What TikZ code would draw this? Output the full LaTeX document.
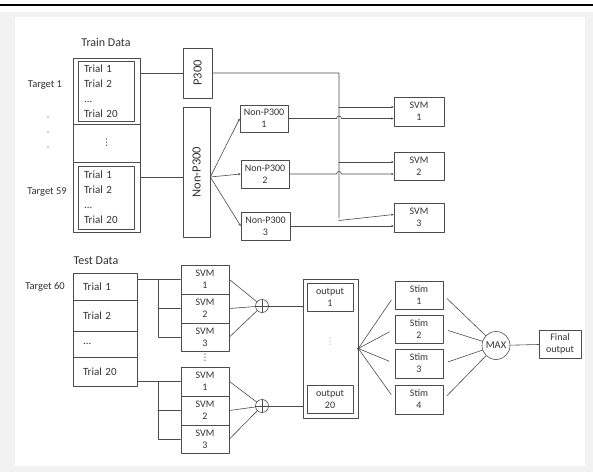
\documentclass[tikz,border=0pt]{standalone}
\usepackage{fontspec}
\usepackage{graphicx}
\setmainfont{Carlito}
\newfontfamily\symfont{DejaVu Sans}
\usetikzlibrary{arrows.meta,calc}
\newcommand{\boxfont}{\fontsize{10}{12}\selectfont}
\newcommand{\trialfont}{\fontsize{11}{15}\selectfont}
\newcommand{\rotfont}{\fontsize{12.5}{14}\selectfont}
\newcommand{\vdot}{{\symfont\fontsize{9}{10}\selectfont ⋮}}
\begin{document}
\begin{tikzpicture}[x=1pt,y=-1pt,line cap=round,line join=round,>={Stealth[length=2.5pt,width=2.2pt]}]
	\tikzset{box/.style={draw=black!70,line width=0.6pt,inner sep=0pt,align=center,font=\boxfont,text=black!80},
		inbox/.style={box,line width=0.9pt},
		lbl/.style={font=\fontsize{10.5}{12}\selectfont,inner sep=0pt,text=black!80},
		wire/.style={draw=black!70,line width=0.6pt}}
	\useasboundingbox (0,0) rectangle (593,472);
	\fill[black!5] (0,12) rectangle (593,472);
	\fill[white] (15,17) rectangle (585,466);
	\draw[line width=2pt] (0,5) -- (593,5);
	% train data
	\node[lbl,font=\fontsize{12}{14}\selectfont] (trainlbl) at (106,42) {Train Data};
	\node[box,minimum width=67pt,minimum height=66pt] (tgtop) at (106.5,91) {};
	\node[box,minimum width=67pt,minimum height=38pt] (tgmid) at (106.5,143) {\vdot};
	\node[box,minimum width=67pt,minimum height=70pt] (tgbot) at (106.5,197) {};
	\node[inbox,minimum width=56pt,minimum height=60pt,font=\trialfont,align=left,text width=44pt] (tgA) at (106,91) {Trial 1\\Trial 2\\...\\Trial 20};
	\node[inbox,minimum width=56pt,minimum height=63pt,font=\trialfont,align=left,text width=44pt] (tgB) at (106,197.5) {Trial 1\\Trial 2\\...\\Trial 20};
	\node[lbl] (tlA) at (45,85) {Target 1};
	\node[lbl] (tlB) at (47,192) {Target 59};
	\foreach \y in {117,132,147}
		\fill[black!35] (48,\y) circle (0.9pt);
	% p300 / non-p300
	\node[box,minimum width=29pt,minimum height=50pt] (p300) at (197.5,73) {\rotfont\rotatebox{90}{P300}};
	\node[box,minimum width=27pt,minimum height=130pt] (np) at (196.5,172) {\rotfont\rotatebox{90}{Non-P300}};
	\node[box,minimum width=48pt,minimum height=27pt] (np1) at (264,118.5) {Non-P300\\1};
	\node[box,minimum width=48pt,minimum height=28pt] (np2) at (265,174) {Non-P300\\2};
	\node[box,minimum width=49pt,minimum height=28pt] (np3) at (265.5,226) {Non-P300\\3};
	\node[box,minimum width=50pt,minimum height=29pt] (svm1) at (419,111.5) {SVM\\1};
	\node[box,minimum width=50pt,minimum height=28pt] (svm2) at (419,166) {SVM\\2};
	\node[box,minimum width=50pt,minimum height=29pt] (svm3) at (419,217.5) {SVM\\3};
	\coordinate (npin) at ([yshift=-5pt]np.west);
	\coordinate (npout) at ([yshift=-5pt]np.east);
	\coordinate (bus) at (339,73);
	\draw[wire] (tgtop.east |- p300.west) -- (p300.west);
	\draw[wire] (tgbot.east |- npin) -- (npin);
	\draw[wire,->] (p300.east) -- (bus) -- (bus |- svm3.west) ++(0,3) -- ([yshift=3pt]svm3.west);
	\draw[wire,->] (bus |- svm1.west) ++(0,-4.5) -- ([yshift=4.5pt]svm1.west);
	\draw[wire,->] (bus |- svm2.west) ++(0,-4) -- ([yshift=4pt]svm2.west);
	\foreach \n in {np1,np2,np3}
		\draw[wire,->] (npout) -- (\n.west);
	\draw[wire,->] (np1.east) -- ($(bus |- np1.east)+(-2.5,0)$) arc[start angle=180,end angle=0,radius=2.5pt] -- (svm1.west |- np1.east);
	\draw[wire,->] (np2.east) -- ($(bus |- np2.east)+(-2.5,0)$) arc[start angle=180,end angle=0,radius=2.5pt] -- (svm2.west |- np2.east);
	\draw[wire,->] (np3.east) -- (svm3.west |- np3.east);
	% test data
	\node[lbl,font=\fontsize{12}{14}\selectfont] (testlbl) at (96,261) {Test Data};
	\node[lbl] (tlC) at (45,287) {Target 60};
	\node[box,minimum width=64pt,minimum height=27pt,font=\trialfont,align=left,text width=44pt] (tr1) at (105,286.5) {Trial 1};
	\node[box,minimum width=64pt,minimum height=31pt,font=\trialfont,align=left,text width=44pt] (tr2) at (105,315.5) {Trial 2};
	\node[box,minimum width=64pt,minimum height=26pt,font=\trialfont,align=left,text width=44pt] (tr3) at (105,344) {...};
	\node[box,minimum width=64pt,minimum height=29pt,font=\trialfont,align=left,text width=44pt] (tr4) at (105,371.5) {Trial 20};
	\node[inbox,minimum width=48pt,minimum height=29pt] (sa1) at (205,279.5) {SVM\\1};
	\node[inbox,minimum width=48pt,minimum height=29pt] (sa2) at (205,308.5) {SVM\\2};
	\node[inbox,minimum width=48pt,minimum height=28pt] (sa3) at (205,337) {SVM\\3};
	\node[lbl] (sdots) at (205,358) {\vdot};
	\node[inbox,minimum width=48pt,minimum height=29pt] (sb1) at (205,381.5) {SVM\\1};
	\node[inbox,minimum width=48pt,minimum height=29pt] (sb2) at (205,410.5) {SVM\\2};
	\node[inbox,minimum width=48pt,minimum height=28pt] (sb3) at (205,439) {SVM\\3};
	\coordinate (split) at (158,360);
	\draw[wire] (tr1.east |- sa1.west) -- (sa1.west);
	\draw[wire] (split |- sa1.west) -- (split |- sa3.west) -- (sa3.west);
	\draw[wire] (split |- sa2.west) -- (sa2.west);
	\draw[wire] (tr4.east |- sb1.west) -- (sb1.west);
	\draw[wire] (split |- sb1.west) -- (split |- sb3.west) -- (sb3.west);
	\draw[wire] (split |- sb2.west) -- (sb2.west);
	\node[draw=black!70,line width=0.6pt,circle,minimum size=13pt,inner sep=0pt] (op1) at (262,306) {};
	\node[draw=black!70,line width=0.6pt,circle,minimum size=13pt,inner sep=0pt] (op2) at (262,406) {};
	\foreach \o in {op1,op2}
		\draw[wire] (\o.north) -- (\o.south) (\o.west) -- (\o.east);
	\foreach \s in {sa1,sa2,sa3}
		\draw[wire] (\s.east) -- (op1);
	\foreach \s in {sb1,sb2,sb3}
		\draw[wire] (\s.east) -- (op2);
	% outputs
	\node[box,minimum width=55pt,minimum height=139pt] (ob) at (330.5,348.5) {};
	\node[inbox,minimum width=46pt,minimum height=28pt] (o1) at (330,297) {output\\1};
	\node[inbox,minimum width=46pt,minimum height=28pt] (o20) at (330,399) {output\\20};
	\node[lbl,text=black!35] (odots) at (330,342) {\vdot};
	\draw[wire] (op1.east) -- (ob.west |- op1.east);
	\draw[wire] (op2.east) -- (ob.west |- op2.east);
	\node[box,minimum width=48pt,minimum height=28pt] (st1) at (419,295) {Stim\\1};
	\node[box,minimum width=48pt,minimum height=28pt] (st2) at (419,329) {Stim\\2};
	\node[box,minimum width=48pt,minimum height=29pt] (st3) at (419,363.5) {Stim\\3};
	\node[box,minimum width=48pt,minimum height=29pt] (st4) at (419,399.5) {Stim\\4};
	\node[draw=black!70,line width=0.6pt,circle,minimum size=28pt,inner sep=0pt,font=\fontsize{10.5}{12}\selectfont,text=black!80] (max) at (496,345.5) {MAX};
	\node[box,minimum width=42pt,minimum height=28pt] (final) at (560,344) {Final\\output};
	\fill[black!80] (ob.east) circle (1.3pt);
	\foreach \s in {st1,st2,st3,st4} {
		\draw[wire,shorten >=6pt] (ob.east) -- (\s.west);
		\draw[wire,shorten <=5pt] (\s.east) -- (max);
	}
	\draw[wire] (max) -- (final);
\end{tikzpicture}
\end{document}
